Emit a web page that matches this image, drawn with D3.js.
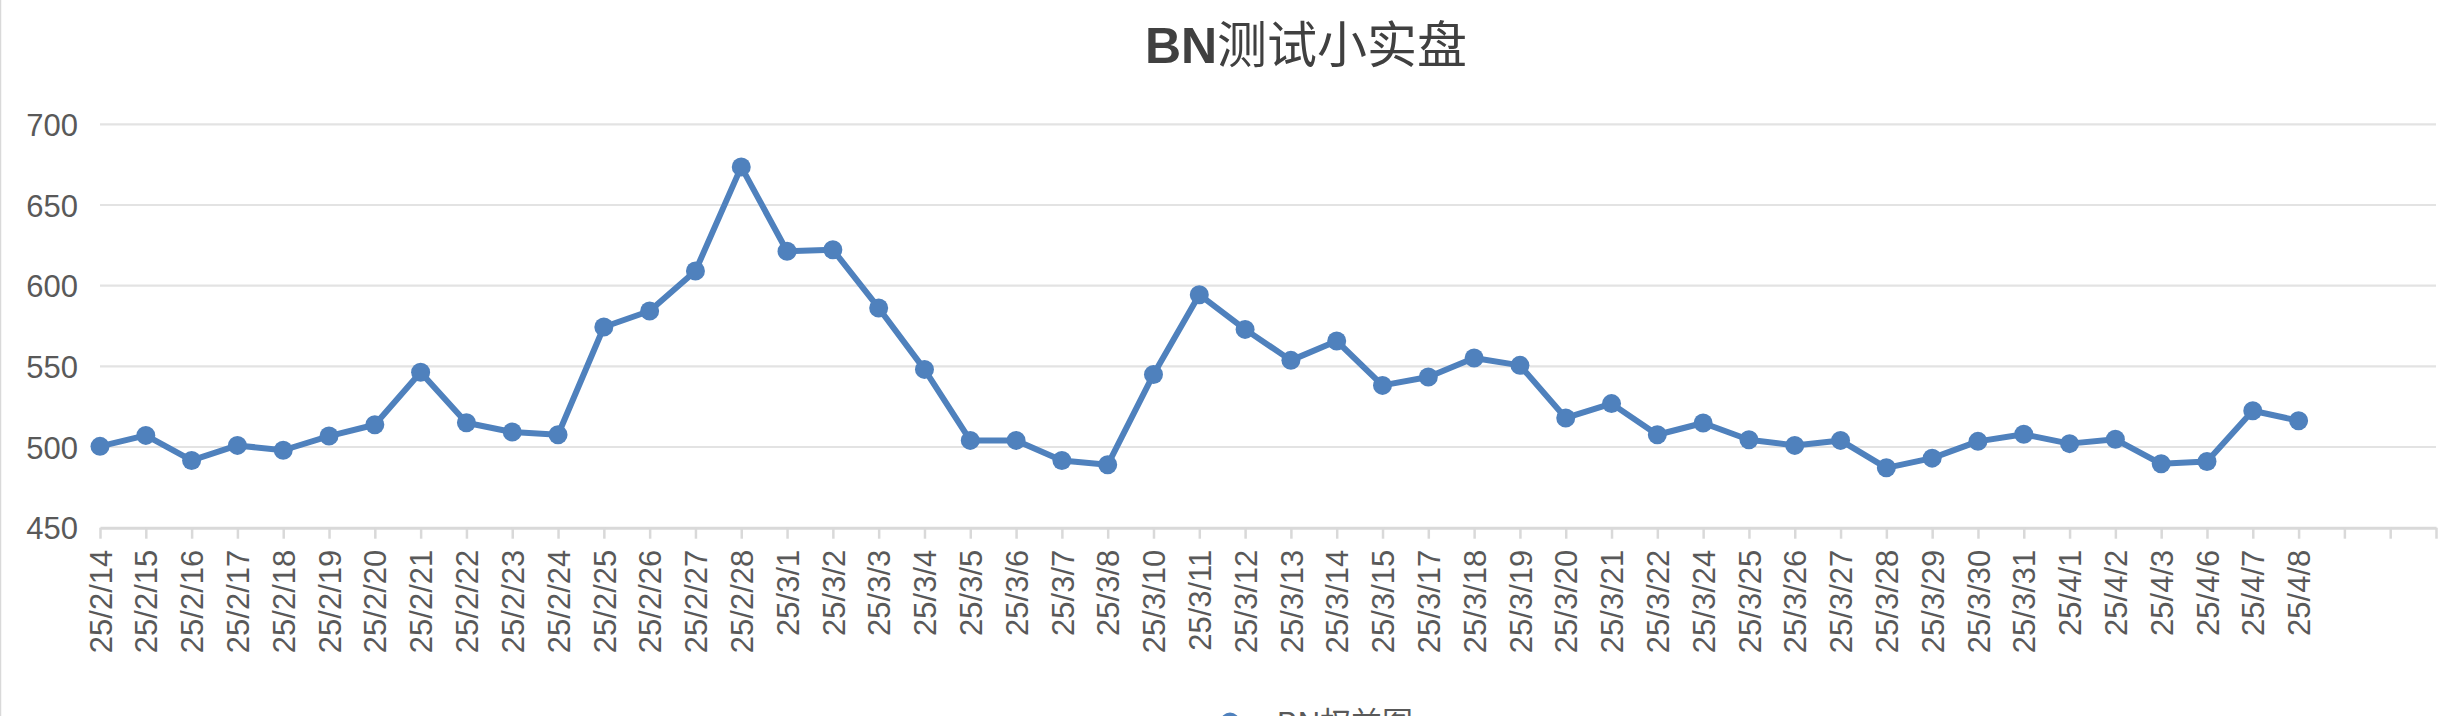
<!DOCTYPE html>
<html>
<head>
<meta charset="utf-8">
<script src="https://cdn.jsdelivr.net/npm/d3@7"></script>
<style>
  html, body { margin: 0; padding: 0; background: #fff; }
  svg { display: block; }
</style>
</head>
<body>
<svg id="chart" width="2442" height="716"></svg>
<script>
const chartTitle = "BN测试小实盘";
const titleLatin = "BN";
const titleCJK = "测试小实盘";
const seriesName = "BN权益图";

const categories = [
  "25/2/14","25/2/15","25/2/16","25/2/17","25/2/18","25/2/19","25/2/20","25/2/21",
  "25/2/22","25/2/23","25/2/24","25/2/25","25/2/26","25/2/27","25/2/28",
  "25/3/1","25/3/2","25/3/3","25/3/4","25/3/5","25/3/6","25/3/7","25/3/8",
  "25/3/10","25/3/11","25/3/12","25/3/13","25/3/14","25/3/15",
  "25/3/17","25/3/18","25/3/19","25/3/20","25/3/21","25/3/22",
  "25/3/24","25/3/25","25/3/26","25/3/27","25/3/28","25/3/29","25/3/30","25/3/31",
  "25/4/1","25/4/2","25/4/3","25/4/6","25/4/7","25/4/8"
];

const values = [
  500.4, 507.2, 491.7, 501.0, 498.0, 506.8, 513.8, 546.3,
  515.0, 509.3, 507.6, 574.4, 584.3, 609.1, 673.6,
  621.3, 622.3, 586.2, 548.1, 504.1, 504.1, 491.7, 489.0,
  545.0, 594.4, 572.9, 553.7, 565.7, 538.2,
  543.4, 555.2, 550.6, 518.0, 526.9, 507.6,
  514.9, 504.5, 501.0, 504.1, 487.1, 493.1, 503.5, 507.9,
  502.1, 504.8, 489.6, 491.0, 522.5, 516.3
];

const yTicks = [450, 500, 550, 600, 650, 700];
const emptySlots = 3; // unlabeled category slots at the end of the axis

const W = 2442, H = 716;
const margin = { left: 100, right: 6, top: 124.3, bottom: H - 527.7 };
const blue = "#4F81BD";
const grid = "#d9d9d9";
const textColor = "#595959";
const font = "'Liberation Sans', Arial, Helvetica, sans-serif";

const svg = d3.select("#chart");

const nSlots = categories.length + emptySlots;
const x = d3.scaleLinear()
  .domain([0, nSlots - 1])
  .range([margin.left, W - margin.right]);
const y = d3.scaleLinear()
  .domain([450, 700])
  .range([H - margin.bottom, margin.top]);

// left chart-area border
svg.append("line")
  .attr("x1", 0.5).attr("x2", 0.5).attr("y1", 0).attr("y2", H)
  .attr("stroke", "#d9d9d9").attr("stroke-width", 1.5);

// gridlines
svg.append("g")
  .selectAll("line")
  .data(yTicks.filter(t => t !== 450))
  .join("line")
  .attr("x1", x.range()[0]).attr("x2", x.range()[1])
  .attr("y1", d => y(d)).attr("y2", d => y(d))
  .attr("stroke", "#e3e3e3").attr("stroke-width", 2.2);

// y axis labels
const yAxis = d3.axisLeft(y).tickValues(yTicks).tickSize(0).tickPadding(0);
const gy = svg.append("g")
  .attr("transform", `translate(${x.range()[0] - 22},0)`)
  .call(yAxis);
gy.select(".domain").remove();
gy.selectAll("text")
  .attr("fill", textColor)
  .style("font-family", font)
  .style("font-size", "31px")
  .attr("dy", "0.36em");

// x axis
const xAxis = d3.axisBottom(x)
  .tickValues(d3.range(nSlots))
  .tickFormat(i => categories[i] || "")
  .tickSizeInner(11)
  .tickSizeOuter(0);
const gx = svg.append("g")
  .attr("transform", `translate(0,${y(450)})`)
  .call(xAxis);
gx.select(".domain")
  .attr("stroke", grid).attr("stroke-width", 3);
gx.selectAll(".tick line")
  .attr("stroke", grid).attr("stroke-width", 2.5);
gx.selectAll(".tick text")
  .attr("fill", textColor)
  .style("font-family", font)
  .style("font-size", "31px")
  .style("text-anchor", "end")
  .attr("transform", "rotate(-90)")
  .attr("x", -22)
  .attr("y", 0)
  .attr("dy", "0.36em");

// line
const line = d3.line()
  .x((d, i) => x(i))
  .y(d => y(d));
svg.append("path")
  .datum(values)
  .attr("fill", "none")
  .attr("stroke", blue)
  .attr("stroke-width", 6)
  .attr("stroke-linejoin", "round")
  .attr("d", line);

// markers
svg.append("g")
  .selectAll("circle")
  .data(values)
  .join("circle")
  .attr("cx", (d, i) => x(i))
  .attr("cy", d => y(d))
  .attr("r", 9.5)
  .attr("fill", blue);

// title
const title = svg.append("text")
  .attr("x", 1306)
  .attr("y", 63)
  .attr("text-anchor", "middle")
  .attr("fill", "#404040")
  .style("font-size", "50px");
title.append("tspan")
  .style("font-family", font)
  .style("font-weight", "bold")
  .text(titleLatin);
title.append("tspan")
  .style("font-family", "'Noto Sans CJK SC', sans-serif")
  .style("font-weight", "normal")
  .text(titleCJK);

// legend (partly cut off at the bottom)
const lg = svg.append("g");
lg.append("line")
  .attr("x1", 1200).attr("x2", 1260).attr("y1", 722).attr("y2", 722)
  .attr("stroke", blue).attr("stroke-width", 6);
lg.append("circle")
  .attr("cx", 1230).attr("cy", 722).attr("r", 9.5).attr("fill", blue);
lg.append("text")
  .attr("x", 1277).attr("y", 734)
  .attr("fill", textColor)
  .style("font-family", font + ", 'Noto Sans CJK SC'")
  .style("font-size", "31px")
  .text(seriesName);
</script>
</body>
</html>
